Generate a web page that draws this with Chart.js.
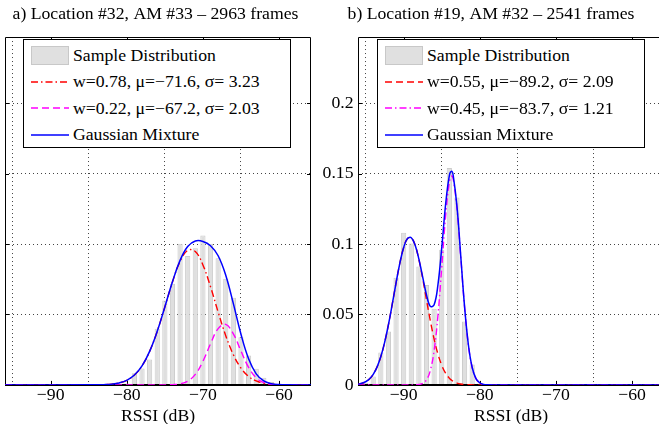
<!DOCTYPE html>
<html><head><meta charset="utf-8">
<script src="https://cdn.jsdelivr.net/npm/chart.js@4.4.1/dist/chart.umd.min.js"></script>
<style>
html,body{margin:0;padding:0;background:#fff;overflow:hidden;width:659px;height:424px;position:relative;}
canvas{position:absolute;top:0;}
#cL{left:0;}
#cR{left:318px;}
.legend{position:absolute;top:39px;width:268px;height:109px;border:1px solid #000;background:#fff;box-sizing:border-box;font-family:'Liberation Serif','Times New Roman',serif;font-size:17.7px;color:#000;padding-top:2px;}
#legL{left:23px;}
#legR{left:377px;}
.row{height:26.5px;display:flex;align-items:center;white-space:nowrap;}
.sw{width:38px;margin-left:7px;margin-right:4px;display:flex;align-items:center;}
.patch{width:38px;height:19px;background:#e0e0e0;border:1px solid #c8c8c8;box-sizing:border-box;}
</style>
</head><body>
<canvas id="cL" width="318" height="450" style="width:318px;height:450px"></canvas>
<canvas id="cR" width="360" height="450" style="width:360px;height:450px"></canvas>
<div id="legL" class="legend"></div>
<div id="legR" class="legend"></div>
<script>
// ---------- data ----------
const titleL = 'a) Location #32, AM #33 \u2013 2963 frames';
const titleR = 'b) Location #19, AM #32 \u2013 2541 frames';
const xLabel = 'RSSI (dB)';
const xTickVals = [-90, -80, -70, -60];
const xTickLabels = ['\u221290', '\u221280', '\u221270', '\u221260'];
const yTickVals = [0, 0.05, 0.1, 0.15, 0.2];
const yTickLabels = ['0', '0.05', '0.1', '0.15', '0.2'];

const legendL = ['Sample Distribution', 'w=0.78, \u03bc=\u221271.6, \u03c3= 3.23', 'w=0.22, \u03bc=\u221267.2, \u03c3= 2.03', 'Gaussian Mixture'];
const legendR = ['Sample Distribution', 'w=0.55, \u03bc=\u221289.2, \u03c3= 2.09', 'w=0.45, \u03bc=\u221283.7, \u03c3= 1.21', 'Gaussian Mixture'];

// histogram (bin centres, dB) and relative frequencies
const binsL = [-80, -79, -78, -77, -76, -75, -74, -73, -72, -71, -70, -69, -68, -67, -66, -65, -64, -63, -62, -61];
const histL = [0.001, 0.0083, 0.0116, 0.018, 0.0398, 0.0599, 0.0718, 0.1002, 0.0915, 0.0971, 0.1061, 0.1002, 0.090, 0.0753, 0.0618, 0.0339, 0.0208, 0.0114, 0.005, 0.002];
const binsR = [-95, -94, -93, -92, -91, -90, -89, -88, -87, -86, -85, -84, -83, -82, -81, -80];
const histR = [0.0015, 0.006, 0.023, 0.038, 0.076, 0.108, 0.1004, 0.084, 0.071, 0.054, 0.096, 0.154, 0.133, 0.045, 0.0145, 0.001];

// fitted curves
const curveXL = [-96, -85, -84, -83, -82, -81, -80, -79, -78, -77, -76, -75, -74, -73, -72, -71, -70, -69, -68, -67, -66, -65, -64, -63, -62, -61, -60, -59, -55.8];
const comp1L = [0, 0.00002, 0.00006, 0.00019, 0.00054, 0.0014, 0.00327, 0.00698, 0.01353, 0.02382, 0.03809, 0.05534, 0.07307, 0.08767, 0.09557, 0.09465, 0.08519, 0.06965, 0.05175, 0.03494, 0.02143, 0.01194, 0.00605, 0.00278, 0.00116, 0.00044, 0.00015, 0.00005, 0];
const comp2L = [0, 0, 0, 0, 0, 0, 0, 0, 0, 0, 0, 0.00003, 0.00016, 0.00073, 0.00264, 0.00749, 0.01669, 0.02916, 0.03997, 0.04299, 0.03627, 0.02402, 0.01247, 0.00508, 0.00162, 0.00041, 0.00008, 0.00001, 0];
const mixL = [0, 0.00002, 0.00006, 0.00019, 0.00054, 0.0014, 0.00327, 0.00698, 0.01353, 0.02382, 0.03809, 0.05537, 0.07323, 0.0884, 0.09821, 0.10214, 0.10188, 0.09881, 0.09172, 0.07793, 0.0577, 0.03596, 0.01852, 0.00786, 0.00278, 0.00085, 0.00023, 0.00006, 0];

const curveXR = [-96, -95.5, -95, -94.5, -94, -93.5, -93, -92.5, -92, -91.5, -91, -90.5, -90, -89.5, -89, -88.5, -88, -87.5, -87, -86.5, -86, -85.5, -85, -84.5, -84, -83.7, -83.5, -83, -82.5, -82, -81.5, -81, -80.5, -80, -79.5, -79, -78, -55.8];
const comp1R = [0.00053, 0.00112, 0.00223, 0.00421, 0.00752, 0.01264, 0.0201, 0.03018, 0.04279, 0.0573, 0.07245, 0.08651, 0.09757, 0.1039, 0.1045, 0.09926, 0.08903, 0.07542, 0.06033, 0.04557, 0.03251, 0.02191, 0.01394, 0.00838, 0.00475, 0.00329, 0.00255, 0.00129, 0.00062, 0.00028, 0.00012, 0.00005, 0.00002, 0.00001, 0, 0, 0, 0];
const comp2R = [0, 0, 0, 0, 0, 0, 0, 0, 0, 0, 0, 0, 0, 0, 0, 0.00006, 0.00027, 0.00107, 0.0036, 0.0102, 0.02436, 0.04907, 0.08331, 0.11925, 0.14388, 0.14837, 0.14635, 0.12552, 0.09073, 0.0553, 0.02841, 0.0123, 0.00449, 0.00138, 0.00036, 0.00008, 0, 0];
const mixR = [0.00053, 0.00112, 0.00223, 0.00421, 0.00752, 0.01264, 0.0201, 0.03018, 0.04279, 0.0573, 0.07245, 0.08651, 0.09757, 0.1039, 0.1045, 0.09932, 0.0893, 0.07649, 0.06393, 0.05577, 0.05687, 0.07098, 0.09725, 0.12763, 0.14863, 0.15166, 0.1489, 0.12681, 0.09135, 0.05558, 0.02853, 0.01235, 0.00451, 0.00139, 0.00036, 0.00008, 0, 0];

// ---------- styling ----------
const FONT = "'Liberation Serif','Times New Roman',serif";
const FS = 17.7;
const DASH = [7, 4];
const DASHDOT = [7, 3, 1.5, 3];
Chart.defaults.font.family = FONT;
Chart.defaults.font.size = FS;
Chart.defaults.color = '#000';

const pts = (xs, ys) => xs.map((x, i) => ({x: x, y: ys[i]}));

const frame = {
  id: 'frame',
  beforeDatasetsDraw(chart) {
    const {ctx, chartArea: a, scales: {x, y}} = chart;
    ctx.save();
    ctx.strokeStyle = '#000';
    ctx.lineWidth = 1;
    ctx.beginPath();
    ctx.rect(Math.round(a.left) + 0.5, Math.round(a.top) + 0.5, Math.round(a.right - a.left) - 1, Math.round(a.bottom - a.top));
    x.ticks.forEach(t => {
      const px = Math.round(x.getPixelForValue(t.value)) + 0.5;
      ctx.moveTo(px, a.top); ctx.lineTo(px, a.top + 4);
      ctx.moveTo(px, a.bottom); ctx.lineTo(px, a.bottom - 4);
    });
    y.ticks.forEach(t => {
      const py = Math.round(y.getPixelForValue(t.value)) + 0.5;
      ctx.moveTo(a.left, py); ctx.lineTo(a.left + 4, py);
      ctx.moveTo(a.right, py); ctx.lineTo(a.right - 4, py);
    });
    ctx.stroke();
    ctx.restore();
  },
  afterDatasetDraw(chart, args) {
    if (args.meta.type !== 'bar') return;
    const {ctx, chartArea: a, scales: {y}} = chart;
    const py = y.getPixelForValue(0);
    ctx.save();
    ctx.strokeStyle = '#000';
    ctx.lineWidth = 2;
    ctx.beginPath();
    ctx.moveTo(a.left, py); ctx.lineTo(a.right, py);
    ctx.stroke();
    ctx.restore();
  }
};

function makeChart(id, title, bins, hist, cx, c1, c2, mix, labels, dash1, dash2, showY, yWidth, padRight) {
  return new Chart(document.getElementById(id), {
    type: 'bar',
    data: {
      datasets: [
        {type: 'bar', label: labels[0], data: pts(bins, hist), backgroundColor: '#dfdfdf', borderColor: '#cbcbcb', borderWidth: 1,
         barPercentage: 0.68, categoryPercentage: 1, order: 4},
        {type: 'line', label: labels[1], data: pts(cx, c1), borderColor: '#ff0000', borderWidth: 1.4, borderDash: dash1, pointRadius: 0, tension: 0.4, order: 3},
        {type: 'line', label: labels[2], data: pts(cx, c2), borderColor: '#ff00ff', borderWidth: 1.4, borderDash: dash2, pointRadius: 0, tension: 0.4, order: 2},
        {type: 'line', label: labels[3], data: pts(cx, mix), borderColor: '#0000ff', borderWidth: 1.5, borderDash: [], pointRadius: 0, tension: 0.4, order: 1}
      ]
    },
    options: {
      responsive: false,
      animation: false,
      events: [],
      layout: {padding: {left: 0, right: padRight, top: 0, bottom: 0}},
      plugins: {
        legend: {display: false},
        tooltip: {enabled: false},
        title: {display: true, text: title, font: {family: FONT, size: FS, weight: 'normal', lineHeight: 1.2}, color: '#000',
                padding: {top: 3.4, bottom: 12.4}}
      },
      scales: {
        x: {
          type: 'linear', min: -96, max: -55.8, offset: false,
          afterBuildTicks: s => { s.ticks = xTickVals.map(v => ({value: v})); },
          ticks: {padding: 2, font: {size: FS, lineHeight: 1}, callback: (v, i) => xTickLabels[i], maxRotation: 0, autoSkip: false},
          grid: {color: '#444', lineWidth: 1, drawTicks: false},
          border: {display: false, dash: [1, 3]},
          title: {display: true, text: xLabel, font: {size: FS, lineHeight: 1}, padding: {top: 0.5, bottom: 25.2}}
        },
        y: {
          type: 'linear', min: 0, max: 0.247,
          afterBuildTicks: s => { s.ticks = yTickVals.map(v => ({value: v})); },
          afterFit: s => { s.width = yWidth; },
          ticks: {display: showY, padding: 4.5, font: {size: FS}, callback: (v, i) => yTickLabels[i]},
          grid: {color: c => (c.tick && c.tick.value === 0) ? 'rgba(0,0,0,0)' : '#444', lineWidth: 1, drawTicks: false},
          border: {display: false, dash: [1, 3]}
        }
      }
    },
    plugins: [frame]
  });
}

function buildLegend(chart, el) {
  chart.data.datasets.forEach(ds => {
    const row = document.createElement('div');
    row.className = 'row';
    const sw = document.createElement('div');
    sw.className = 'sw';
    if (ds.type === 'bar') {
      const p = document.createElement('div');
      p.className = 'patch';
      sw.appendChild(p);
    } else {
      const ns = 'http://www.w3.org/2000/svg';
      const svg = document.createElementNS(ns, 'svg');
      svg.setAttribute('width', '38'); svg.setAttribute('height', '6');
      const ln = document.createElementNS(ns, 'line');
      ln.setAttribute('x1', '0'); ln.setAttribute('x2', '38'); ln.setAttribute('y1', '3'); ln.setAttribute('y2', '3');
      ln.setAttribute('stroke', ds.borderColor); ln.setAttribute('stroke-width', '1.4');
      if (ds.borderDash && ds.borderDash.length) ln.setAttribute('stroke-dasharray', ds.borderDash.join(' '));
      svg.appendChild(ln);
      sw.appendChild(svg);
    }
    const tx = document.createElement('span');
    tx.textContent = ds.label;
    row.appendChild(sw);
    row.appendChild(tx);
    el.appendChild(row);
  });
}

const chL = makeChart('cL', titleL, binsL, histL, curveXL, comp1L, comp2L, mixL, legendL, DASHDOT, DASH, false, 5, 7);
const chR = makeChart('cR', titleR, binsR, histR, curveXR, comp1R, comp2R, mixR, legendR, DASH, DASHDOT, true, 40, 14);
buildLegend(chL, document.getElementById('legL'));
buildLegend(chR, document.getElementById('legR'));
</script>
</body></html>
